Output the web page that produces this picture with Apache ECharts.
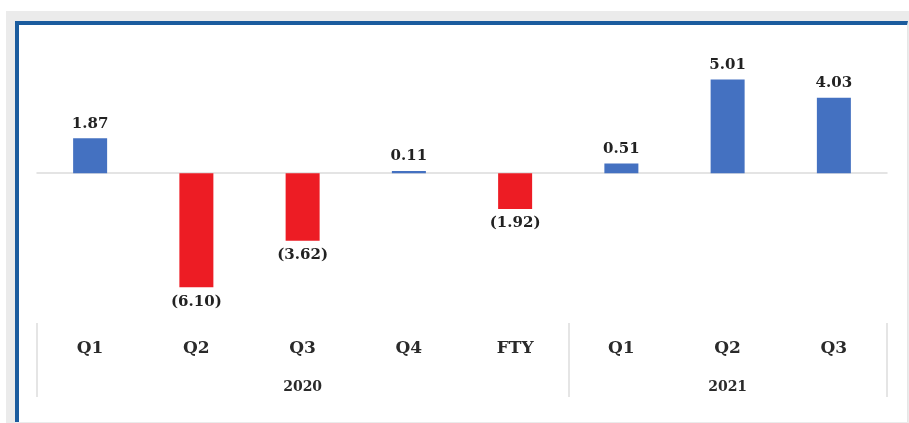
<!DOCTYPE html>
<html>
<head>
<meta charset="utf-8">
<script src="https://cdn.jsdelivr.net/npm/echarts@6/dist/echarts.min.js"></script>
<style>
  html, body { margin: 0; padding: 0; background: #fff; overflow: hidden; }
  #frame { position: absolute; left: 6px; top: 11px; width: 903px; height: 412px; background: #ebebeb; }
  #panel { position: absolute; left: 15px; top: 21px; width: 893px; height: 401px; background: #fff;
           border-left: 4px solid #1b5c9e; border-top: 4px solid #1b5c9e;
           border-right: 1px solid #e6e6e6; box-sizing: border-box; }
  #main { position: absolute; left: 0; top: 0; width: 909px; height: 423px; }
</style>
</head>
<body>
<div id="frame"></div>
<div id="panel"></div>
<div id="main"></div>
<script>
// quarters shown along the bottom, grouped by year
var quarters = ['Q1', 'Q2', 'Q3', 'Q4', 'FTY', 'Q1', 'Q2', 'Q3'];
var years = ['', '', '2020', '', '', '', '2021', ''];
// growth values, negatives are printed in brackets
var values = [1.87, -6.10, -3.62, 0.11, -1.92, 0.51, 5.01, 4.03];

var blue = '#4471c1';
var red = '#ed1c24';
var serif = '"DejaVu Serif", "Liberation Serif", serif';

var myChart = echarts.init(document.getElementById('main'));

var barData = values.map(function (v) {
  return {
    value: v,
    itemStyle: { color: v < 0 ? red : blue },
    label: { position: v < 0 ? 'bottom' : 'top' }
  };
});

myChart.setOption({
  animation: false,
  grid: [
    { left: 37, right: 22, top: 61, height: 243 },
    { left: 37, right: 22, top: 323, height: 74 }
  ],
  xAxis: [
    {
      gridIndex: 0,
      type: 'category',
      data: quarters,
      axisLine: { onZero: true, lineStyle: { color: '#dcdcdc', width: 1.5 } },
      axisTick: { show: false },
      axisLabel: { show: false },
      splitLine: { show: false }
    },
    {
      gridIndex: 1,
      type: 'category',
      position: 'top',
      data: quarters,
      axisLine: { show: false },
      axisTick: { show: false },
      axisLabel: {
        inside: true, margin: 17, color: '#2a2a2a',
        fontFamily: serif, fontSize: 17, fontWeight: 'bold'
      },
      splitLine: {
        show: true,
        interval: function (index) { return index === 0 || index === 5 || index === 8; },
        lineStyle: { color: '#dddddd', width: 1.5 }
      }
    },
    {
      gridIndex: 1,
      type: 'category',
      position: 'bottom',
      data: years,
      axisLine: { show: false },
      axisTick: { show: false },
      axisLabel: {
        inside: true, margin: 3, interval: 0, color: '#2a2a2a',
        fontFamily: serif, fontSize: 14, fontWeight: 'bold'
      },
      splitLine: { show: false }
    }
  ],
  yAxis: [
    { gridIndex: 0, type: 'value', min: -7, max: 6, show: false, splitLine: { show: false } },
    { gridIndex: 1, type: 'value', min: 0, max: 1, show: false, splitLine: { show: false } }
  ],
  series: [
    {
      type: 'bar',
      xAxisIndex: 0,
      yAxisIndex: 0,
      barWidth: 34,
      data: barData,
      label: {
        show: true,
        distance: 7,
        color: '#222',
        fontFamily: serif,
        fontSize: 15,
        fontWeight: 'bold',
        formatter: function (p) {
          var v = p.value;
          return v < 0 ? '(' + Math.abs(v).toFixed(2) + ')' : v.toFixed(2);
        }
      }
    }
  ]
});
</script>
</body>
</html>
